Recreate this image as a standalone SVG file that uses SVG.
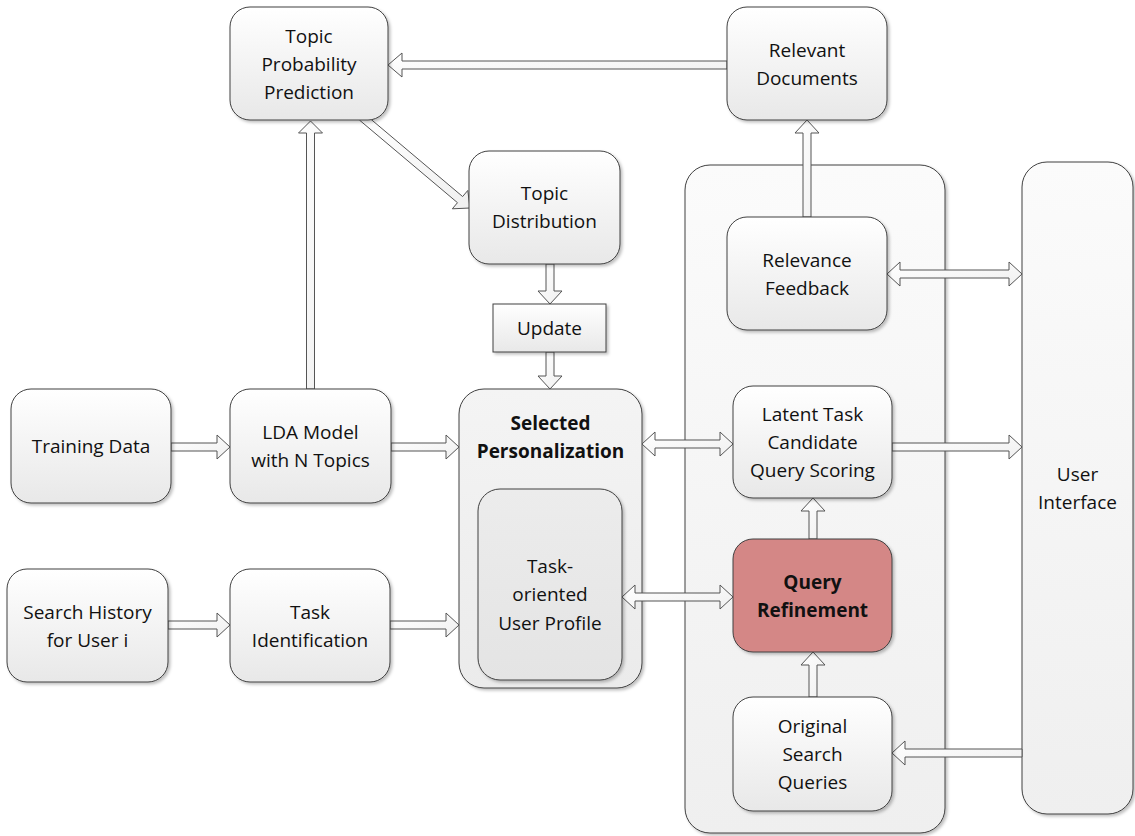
<svg xmlns="http://www.w3.org/2000/svg" width="1135" height="836" viewBox="0 0 1135 836">
<style>
.n{stroke:#404040;stroke-width:1;fill:url(#gN);filter:url(#sh)}
.t{font-family:"Open Sans","Liberation Sans",sans-serif;font-size:19px;fill:#111;text-anchor:middle}
.b{font-weight:bold}
.a{fill:url(#gA);stroke:#555;stroke-width:1;stroke-linejoin:miter}
</style>
<defs>
<linearGradient id="gN" x1="0" y1="0" x2="0" y2="1"><stop offset="0" stop-color="#ffffff"/><stop offset="1" stop-color="#e8e8e8"/></linearGradient>
<linearGradient id="gC" x1="0" y1="0" x2="0" y2="1"><stop offset="0" stop-color="#fbfbfb"/><stop offset="1" stop-color="#efefef"/></linearGradient>
<linearGradient id="gS" x1="0" y1="0" x2="0" y2="1"><stop offset="0" stop-color="#f4f4f4"/><stop offset="1" stop-color="#ebebeb"/></linearGradient>
<linearGradient id="gI" x1="0" y1="0" x2="0" y2="1"><stop offset="0" stop-color="#ececec"/><stop offset="1" stop-color="#e4e4e4"/></linearGradient>
<linearGradient id="gA" x1="0" y1="0" x2="1" y2="1"><stop offset="0" stop-color="#ffffff"/><stop offset="1" stop-color="#f0f0f0"/></linearGradient>
<filter id="sh" x="-10%" y="-10%" width="120%" height="120%"><feDropShadow dx="2" dy="2" stdDeviation="1.5" flood-color="#000" flood-opacity="0.25"/></filter>
</defs>
<rect width="1135" height="836" fill="#fff"/>

<g id="container">
<rect x="685" y="165" width="260" height="668" rx="25" fill="url(#gC)" stroke="#404040" filter="url(#sh)"/>
</g>
<g id="user-interface">
<rect x="1022" y="162" width="111" height="652" rx="25" fill="url(#gC)" stroke="#404040" filter="url(#sh)"/>
<text class="t" x="1077.5" y="481">User</text>
<text class="t" x="1077.5" y="509">Interface</text>
</g>
<g id="selected-personalization">
<rect x="459" y="389" width="183" height="299" rx="25" fill="url(#gS)" stroke="#404040" filter="url(#sh)"/>
<text class="t b" x="550.5" y="430">Selected</text>
<text class="t b" x="550.5" y="458">Personalization</text>
</g>

<g id="connectors">
<polygon class="a" points="727,61 402,61 402,53 388,65 402,77 402,69 727,69"/>
<polygon class="a" points="306.5,389 306.5,133 298.5,133 310.5,121 322.5,133 314.5,133 314.5,389"/>
<polygon class="a" points="359.42,120.06 457.48,202.68 452.33,208.8 470,208 467.79,190.44 462.64,196.56 364.58,113.94"/>
<polygon class="a" points="546,264 546,291 538,291 550,304 562,291 554,291 554,264"/>
<polygon class="a" points="546,352 546,376 538,376 550,389 562,376 554,376 554,352"/>
<polygon class="a" points="171,443 217,443 217,435 230,447 217,459 217,451 171,451"/>
<polygon class="a" points="391,443 446,443 446,435 459,447 446,459 446,451 391,451"/>
<polygon class="a" points="168,621 217,621 217,613 230,625 217,637 217,629 168,629"/>
<polygon class="a" points="390,621 446,621 446,613 459,625 446,637 446,629 390,629"/>
<polygon class="a" points="642,444 655,432 655,440 720,440 720,432 733,444 720,456 720,448 655,448 655,456"/>
<polygon class="a" points="622,597 635,585 635,593 720,593 720,585 733,597 720,609 720,601 635,601 635,609"/>
<polygon class="a" points="887,274 900,262 900,270 1009,270 1009,262 1022,274 1009,286 1009,278 900,278 900,286"/>
<polygon class="a" points="892,443 1009,443 1009,435 1022,447 1009,459 1009,451 892,451"/>
<polygon class="a" points="1022,749 905,749 905,741 892,753 905,765 905,757 1022,757"/>
<polygon class="a" points="809,697 809,665 801,665 813,652 825,665 817,665 817,697"/>
<polygon class="a" points="809,539 809,511 801,511 813,498 825,511 817,511 817,539"/>
<polygon class="a" points="803,217 803,133 795,133 807,120 819,133 811,133 811,217"/>
</g>

<g id="topic-probability-prediction">
<rect class="n" x="230" y="7" width="158" height="113" rx="20"/>
<text class="t" x="309" y="43">Topic</text>
<text class="t" x="309" y="71">Probability</text>
<text class="t" x="309" y="99">Prediction</text>
</g>
<g id="relevant-documents">
<rect class="n" x="727" y="7" width="160" height="113" rx="20"/>
<text class="t" x="807" y="57">Relevant</text>
<text class="t" x="807" y="85">Documents</text>
</g>
<g id="topic-distribution">
<rect class="n" x="469" y="151" width="151" height="113" rx="20"/>
<text class="t" x="544.5" y="200">Topic</text>
<text class="t" x="544.5" y="228">Distribution</text>
</g>
<g id="update">
<rect class="n" x="493" y="304" width="113" height="48"/>
<text class="t" x="549.5" y="335">Update</text>
</g>
<g id="training-data">
<rect class="n" x="11" y="389" width="160" height="114" rx="20"/>
<text class="t" x="91" y="453">Training Data</text>
</g>
<g id="lda-model">
<rect class="n" x="230" y="389" width="161" height="114" rx="20"/>
<text class="t" x="310.5" y="439">LDA Model</text>
<text class="t" x="310.5" y="467">with N Topics</text>
</g>
<g id="search-history">
<rect class="n" x="7" y="569" width="161" height="113" rx="20"/>
<text class="t" x="87.5" y="619">Search History</text>
<text class="t" x="87.5" y="647">for User i</text>
</g>
<g id="task-identification">
<rect class="n" x="230" y="569" width="160" height="113" rx="20"/>
<text class="t" x="310" y="619">Task</text>
<text class="t" x="310" y="647">Identification</text>
</g>
<g id="task-oriented-user-profile">
<rect x="478" y="489" width="144" height="191" rx="22" fill="url(#gI)" stroke="#404040" filter="url(#sh)"/>
<text class="t" x="550" y="573">Task-</text>
<text class="t" x="550" y="601">oriented</text>
<text class="t" x="550" y="630">User Profile</text>
</g>
<g id="relevance-feedback">
<rect class="n" x="727" y="217" width="160" height="113" rx="20"/>
<text class="t" x="807" y="267">Relevance</text>
<text class="t" x="807" y="295">Feedback</text>
</g>
<g id="latent-task-scoring">
<rect class="n" x="733" y="386" width="159" height="112" rx="20"/>
<text class="t" x="812.5" y="421">Latent Task</text>
<text class="t" x="812.5" y="449">Candidate</text>
<text class="t" x="812.5" y="477">Query Scoring</text>
</g>
<g id="query-refinement">
<rect x="733" y="539" width="159" height="113" rx="20" fill="#d48786" stroke="#404040" filter="url(#sh)"/>
<text class="t b" x="812.5" y="589">Query</text>
<text class="t b" x="812.5" y="617">Refinement</text>
</g>
<g id="original-search-queries">
<rect class="n" x="733" y="697" width="159" height="114" rx="20"/>
<text class="t" x="812.5" y="733">Original</text>
<text class="t" x="812.5" y="761">Search</text>
<text class="t" x="812.5" y="789">Queries</text>
</g>
</svg>
